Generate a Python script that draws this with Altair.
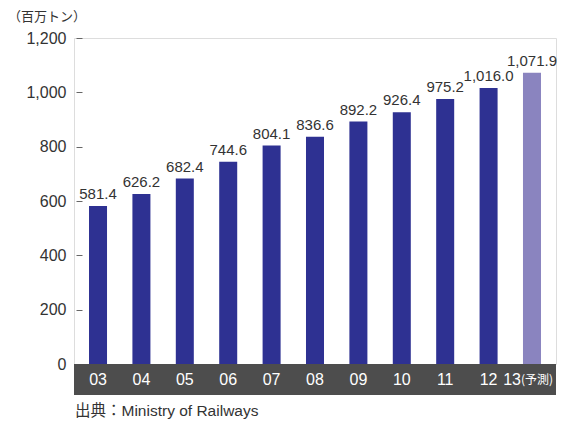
import altair as alt
import pandas as pd

years = ["03", "04", "05", "06", "07", "08", "09", "10", "11", "12", "13"]
values = [581.4, 626.2, 682.4, 744.6, 804.1, 836.6, 892.2, 926.4, 975.2, 1016.0, 1071.9]
kinds = ["実績"] * 10 + ["予測"]
y_ticks = [0, 200, 400, 600, 800, 1000, 1200]

unit_label = "（百万トン）"
source_label = "出典：Ministry of Railways"
forecast_note = "(予測)"

W, H = 482, 326
df = pd.DataFrame({"year": years, "value": values, "kind": kinds})
one = pd.DataFrame({"a": [0]})

xenc = alt.X("year:N", sort=years, axis=None,
             scale=alt.Scale(paddingInner=0.585, paddingOuter=0.346))

band = alt.Chart(one).mark_rect(color="#4d4d4d").encode(
    x=alt.value(0), x2=alt.value(W), y=alt.value(H), y2=alt.value(H + 31))

bars = alt.Chart(df).mark_bar().encode(
    x=xenc,
    y=alt.Y("value:Q", scale=alt.Scale(domain=[0, 1200]),
            axis=alt.Axis(values=y_ticks, format=",.0f", title=None, grid=False,
                          domain=False, tickColor="#666", tickSize=6, offset=-8,
                          labelPadding=10, labelFontSize=16, labelColor="#333",
                          labelFont="Liberation Sans")),
    color=alt.Color("kind:N", scale=alt.Scale(domain=["実績", "予測"],
                                              range=["#2e3192", "#8a84bf"]),
                    legend=None),
)

vals = alt.Chart(df).mark_text(dy=-7, baseline="alphabetic", fontSize=15,
                               font="Liberation Sans",
                               color="#333").encode(
    x=xenc, y="value:Q", text=alt.Text("value:Q", format=",.1f"))

xlabs = alt.Chart(df).transform_filter(alt.datum.year != "13").mark_text(
    color="white", fontSize=16, baseline="middle", font="Liberation Sans").encode(
    x=xenc, y=alt.value(H + 16), text="year:N")

xlab13 = alt.Chart(df).transform_filter(alt.datum.year == "13").mark_text(
    color="white", fontSize=16, baseline="middle", align="right", dx=-11,
    font="Liberation Sans").encode(x=xenc, y=alt.value(H + 16), text="year:N")

note13 = alt.Chart(df).transform_filter(alt.datum.year == "13").mark_text(
    color="white", fontSize=12, baseline="middle", align="left", dx=-11,
    font="Noto Sans CJK JP").encode(x=xenc, y=alt.value(H + 16),
                                    text=alt.value(forecast_note))

unit = alt.Chart(one).mark_text(align="left", baseline="middle", fontSize=13,
                                font="Noto Sans CJK JP", color="#333").encode(
    x=alt.value(-66), y=alt.value(-21), text=alt.value(unit_label))

source = alt.Chart(one).mark_text(align="left", baseline="middle", fontSize=15.5,
                                  font="Liberation Sans, Noto Sans CJK JP",
                                  color="#333").encode(
    x=alt.value(1), y=alt.value(H + 47), text=alt.value(source_label))

chart = alt.layer(band, bars, vals, xlabs, xlab13, note13, unit, source).properties(
    width=W, height=H,
    autosize=alt.AutoSizeParams(type="none"),
    padding={"left": 74, "top": 38, "right": 5, "bottom": 57},
).configure_view(stroke=None).configure(background="white")

chart.save("out.html", embed_options={"renderer": "svg", "actions": False})
